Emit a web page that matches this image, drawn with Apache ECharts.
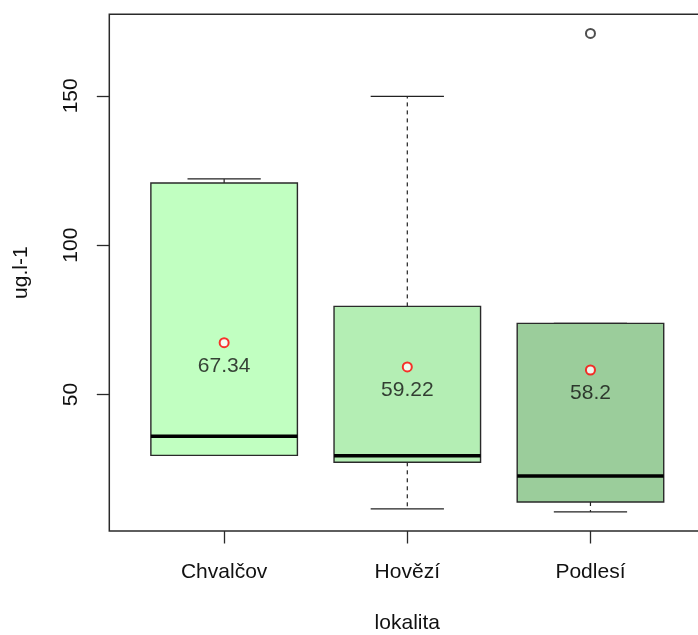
<!DOCTYPE html>
<html>
<head>
<meta charset="utf-8">
<script src="https://cdn.jsdelivr.net/npm/echarts@6/dist/echarts.min.js"></script>
<style>
  html, body { margin: 0; padding: 0; background: #fff; }
  #chart { width: 698px; height: 635px; }
</style>
</head>
<body>
<div id="chart"></div>
<script>
// Sites and five-number summaries (ug.l-1)
const categories = ['Chvalčov', 'Hovězí', 'Podlesí'];
const lowerWhisker = [29.6, 11.7, 10.7];
const lowerQuartile = [29.6, 27.3, 14.0];
const medians = [36.0, 29.5, 22.7];
const upperQuartile = [120.8, 79.5, 73.8];
const upperWhisker = [122.2, 149.8, 73.8];
const means = [67.34, 59.22, 58.2];
const outlierSite = [3];
const outlierValue = [170.9];
const yTicks = [50, 100, 150];
const boxFills = ['#C1FFC1', '#B4EEB4', '#9BCD9B'];

const FONT = 'Liberation Sans, Arial, sans-serif';
const INK = '#111';
const BOX_WIDTH = 0.8;   // in x-axis units
const CAP_WIDTH = 0.4;

// value range padded by 4% on each side
const allVals = lowerWhisker.concat(upperWhisker, outlierValue);
const dMin = Math.min(...allVals), dMax = Math.max(...allVals);
const pad = 0.04 * (dMax - dMin);
const yMin = dMin - pad, yMax = dMax + pad;

const boxData = categories.map((c, i) => [i + 1, lowerWhisker[i], lowerQuartile[i], medians[i], upperQuartile[i], upperWhisker[i]]);
const meanData = categories.map((c, i) => [i + 1, means[i]]);
const outlierData = outlierSite.map((s, i) => [s, outlierValue[i]]);

function renderBox(params, api) {
  const x = api.value(0);
  const lo = api.value(1), q1 = api.value(2), med = api.value(3), q3 = api.value(4), hi = api.value(5);
  const half = api.size([BOX_WIDTH, 0])[0] / 2;
  const capHalf = api.size([CAP_WIDTH, 0])[0] / 2;
  const cx = api.coord([x, med])[0];
  const yLo = api.coord([x, lo])[1];
  const yQ1 = api.coord([x, q1])[1];
  const yMed = api.coord([x, med])[1];
  const yQ3 = api.coord([x, q3])[1];
  const yHi = api.coord([x, hi])[1];
  const dash = { stroke: '#222', lineWidth: 1.2, lineDash: [4, 4] };
  const solid = { stroke: '#222', lineWidth: 1.3 };
  return {
    type: 'group',
    children: [
      { type: 'line', shape: { x1: cx, y1: yQ3, x2: cx, y2: yHi }, style: dash },
      { type: 'line', shape: { x1: cx, y1: yQ1, x2: cx, y2: yLo }, style: dash },
      { type: 'line', shape: { x1: cx - capHalf, y1: yHi, x2: cx + capHalf, y2: yHi }, style: solid },
      { type: 'line', shape: { x1: cx - capHalf, y1: yLo, x2: cx + capHalf, y2: yLo }, style: solid },
      { type: 'rect', shape: { x: cx - half, y: yQ3, width: 2 * half, height: yQ1 - yQ3 },
        style: { fill: boxFills[params.dataIndex], stroke: '#2a2a2a', lineWidth: 1.4 } },
      { type: 'line', shape: { x1: cx - half, y1: yMed, x2: cx + half, y2: yMed },
        style: { stroke: '#000', lineWidth: 3.5 } }
    ]
  };
}

const chart = echarts.init(document.getElementById('chart'));
chart.setOption({
  animation: false,
  backgroundColor: '#fff',
  grid: {
    left: 109.3, top: 14.3, width: 596, height: 516.7,
    outerBoundsMode: 'none', containLabel: false,
    show: true, borderColor: '#2a2a2a', borderWidth: 1.5, backgroundColor: 'transparent'
  },
  xAxis: {
    type: 'value', min: 0.373, max: 3.627,
    splitLine: { show: false },
    axisLine: { show: false },
    axisTick: { show: true, length: 12.5, customValues: [1, 2, 3], lineStyle: { color: '#2a2a2a', width: 1.3 } },
    axisLabel: {
      customValues: [1, 2, 3],
      formatter: v => categories[Math.round(v) - 1] || '',
      margin: 41, verticalAlign: 'middle',
      fontFamily: FONT, fontSize: 21, color: INK
    },
    name: 'lokalita', nameLocation: 'middle', nameGap: 92,
    nameTextStyle: { fontFamily: FONT, fontSize: 21, color: INK, verticalAlign: 'middle', align: 'center' }
  },
  yAxis: {
    type: 'value', min: yMin, max: yMax,
    splitLine: { show: false },
    axisLine: { show: false },
    axisTick: { show: true, length: 12.5, customValues: yTicks, lineStyle: { color: '#2a2a2a', width: 1.3 } },
    axisLabel: {
      customValues: yTicks, rotate: 90, margin: 37.8,
      align: 'center', verticalAlign: 'middle',
      fontFamily: FONT, fontSize: 21, color: INK
    },
    name: 'ug.l-1', nameLocation: 'middle', nameGap: 88, nameRotate: 90,
    nameTextStyle: { fontFamily: FONT, fontSize: 21, color: INK, verticalAlign: 'middle', align: 'center' }
  },
  series: [
    {
      type: 'custom',
      renderItem: renderBox,
      encode: { x: 0, y: [1, 2, 3, 4, 5] },
      data: boxData,
      z: 2
    },
    {
      type: 'scatter',
      data: meanData,
      symbol: 'emptyCircle', symbolSize: 9,
      itemStyle: { color: '#ff0000', borderColor: '#ff0000', borderWidth: 1.2 },
      label: {
        show: true, position: 'inside', offset: [0, 23.5],
        formatter: p => String(p.value[1]),
        fontFamily: FONT, fontSize: 21, color: INK
      },
      z: 3
    },
    {
      type: 'scatter',
      data: outlierData,
      symbol: 'emptyCircle', symbolSize: 9,
      itemStyle: { color: '#222', borderColor: '#222', borderWidth: 1.2 },
      z: 3
    }
  ]
});
</script>
</body>
</html>
